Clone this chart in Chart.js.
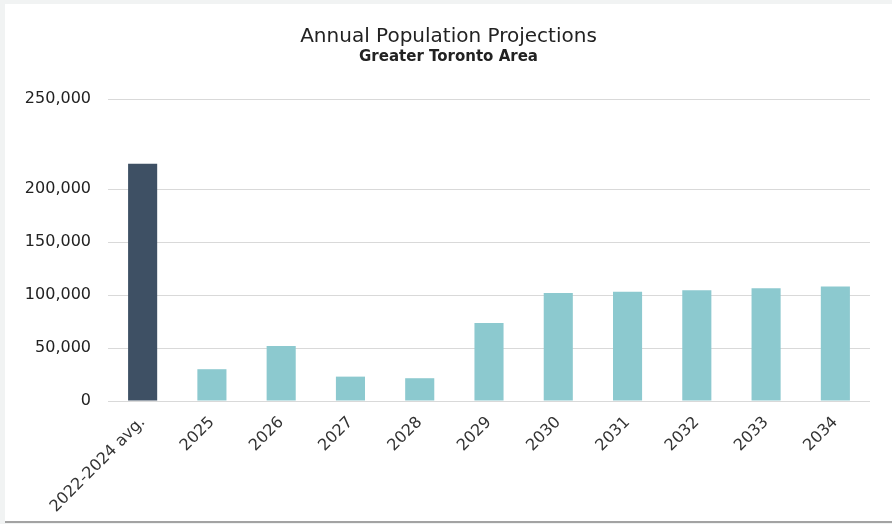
<!DOCTYPE html>
<html>
<head>
<meta charset="utf-8">
<script src="https://cdn.jsdelivr.net/npm/chart.js@4/dist/chart.umd.min.js"></script>
<style>
    html, body { margin: 0; padding: 0; background: #f1f3f3; }
    #frame {
        position: absolute;
        left: 5px;
        top: 4px;
        width: 887px;
        height: 517px;
        background: #ffffff;
        border-bottom: 2px solid #a3a3a3;
    }
</style>
</head>
<body>
<div id="frame"><canvas id="popChart" width="887" height="517"></canvas></div>
<script>
// Data
const categories = ['2022-2024 avg.', '2025', '2026', '2027', '2028', '2029', '2030', '2031', '2032', '2033', '2034'];
const population = [224000, 30000, 52000, 23000, 21500, 73500, 102000, 103000, 104500, 106500, 108000];
const yTicks = [0, 50000, 100000, 150000, 200000, 250000];
// the top gridline of the original sits higher than a linear 250,000 would
const yAxisTop = 285000;

const barColors = categories.map((c, i) => i === 0 ? '#3e5064' : '#8cc9cf');

const ctx = document.getElementById('popChart').getContext('2d');
const chart = new Chart(ctx, {
    type: 'bar',
    data: {
        labels: categories,
        datasets: [{
            label: 'Population growth',
            data: population,
            backgroundColor: barColors,
            borderWidth: 0,
            barPercentage: 0.42,
            categoryPercentage: 1
        }]
    },
    options: {
        responsive: false,
        animation: false,
        layout: { padding: 0 },
        plugins: {
            legend: { display: false },
            tooltip: { enabled: false },
            title: {
                display: true,
                text: 'Annual Population Projections',
                color: '#222222',
                font: { family: 'DejaVu Sans', size: 20, weight: 'normal', lineHeight: 1.1 },
                padding: { top: 22, bottom: 0 }
            },
            subtitle: {
                display: true,
                text: 'Greater Toronto Area',
                color: '#222222',
                font: { family: 'DejaVu Sans', size: 15, weight: 'bold' },
                padding: { top: 0, bottom: 33 }
            }
        },
        scales: {
            x: {
                grid: { display: false },
                border: { display: false },
                ticks: {
                    color: '#333333',
                    font: { family: 'DejaVu Sans', size: 16 },
                    minRotation: 45,
                    maxRotation: 45,
                    padding: 4
                },
                afterFit: scale => { scale.height = 120; }
            },
            y: {
                min: 0,
                max: yAxisTop,
                border: { display: false },
                grid: { color: '#d9d9d9', lineWidth: 1, drawTicks: false },
                ticks: {
                    color: '#222222',
                    font: { family: 'DejaVu Sans', size: 16 },
                    padding: 17,
                    callback: (value, index) => yTicks[index].toLocaleString('en-US')
                },
                afterBuildTicks: scale => {
                    scale.ticks = yTicks.map((v, i) => ({ value: i === yTicks.length - 1 ? yAxisTop : v }));
                },
                afterFit: scale => { scale.width = 103; }
            },
            // empty right margin so the title stays centred on the whole canvas
            yRight: {
                position: 'right',
                grid: { display: false },
                border: { display: false },
                ticks: { display: false },
                afterFit: scale => { scale.width = 22; }
            }
        }
    }
});
</script>
</body>
</html>
